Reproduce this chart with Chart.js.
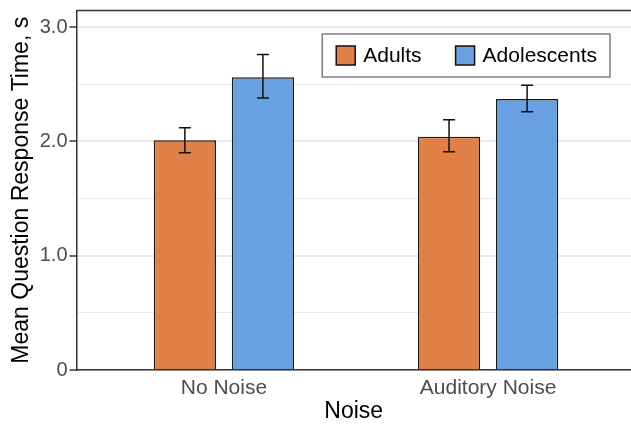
<!DOCTYPE html>
<html>
<head>
<meta charset="utf-8">
<script src="https://cdn.jsdelivr.net/npm/chart.js@4.4.0/dist/chart.umd.min.js"></script>
<style>
  html, body { margin: 0; padding: 0; background: #fff; overflow: hidden; }
  #wrap { width: 631px; height: 426px; }
</style>
</head>
<body>
<div id="wrap"><canvas id="noise"></canvas></div>
<script>
// data
const categories = ["No Noise", "Auditory Noise"];
const groups = ["Adults", "Adolescents"];
const adultsMean = [2.01, 2.04];
const adultsLow = [1.90, 1.91];
const adultsHigh = [2.12, 2.19];
const teensMean = [2.56, 2.37];
const teensLow = [2.38, 2.26];
const teensHigh = [2.76, 2.49];
const yTicks = [0, 0.5, 1, 1.5, 2, 2.5, 3];
const yTickLabels = ["0", "", "1.0", "", "2.0", "", "3.0"];
const colors = ["#E07F48", "#68A0E2"];

Chart.defaults.font.family = "'Liberation Sans', Arial, sans-serif";

function points(values) {
  return values.map((v, i) => ({ x: i + 1, y: v }));
}

// top edge of the panel
const panelTop = {
  id: "panelTop",
  beforeDatasetsDraw(chart) {
    const { ctx, chartArea } = chart;
    ctx.save();
    ctx.strokeStyle = "#333";
    ctx.lineWidth = 1.5;
    ctx.beginPath();
    ctx.moveTo(chartArea.left, chartArea.top);
    ctx.lineTo(chartArea.right, chartArea.top);
    ctx.stroke();
    ctx.restore();
  }
};

const errorBars = {
  id: "errorBars",
  afterDatasetsDraw(chart) {
    const { ctx } = chart;
    const y = chart.scales.y;
    ctx.save();
    ctx.strokeStyle = "#111";
    ctx.lineWidth = 1.5;
    chart.data.datasets.forEach((ds, di) => {
      chart.getDatasetMeta(di).data.forEach((bar, i) => {
        const top = y.getPixelForValue(ds.errHigh[i]);
        const bot = y.getPixelForValue(ds.errLow[i]);
        ctx.beginPath();
        ctx.moveTo(bar.x, top);
        ctx.lineTo(bar.x, bot);
        ctx.moveTo(bar.x - 6, top);
        ctx.lineTo(bar.x + 6, top);
        ctx.moveTo(bar.x - 6, bot);
        ctx.lineTo(bar.x + 6, bot);
        ctx.stroke();
      });
    });
    ctx.restore();
  }
};

const boxLegend = {
  id: "boxLegend",
  afterDraw(chart) {
    const { ctx, chartArea } = chart;
    const ds = chart.data.datasets;
    ctx.save();
    ctx.font = "21px 'Liberation Sans', Arial, sans-serif";
    const sq = 19, gapText = 8, gapItem = 34, padL = 14, padR = 13, h = 43;
    let w = padL + padR;
    ds.forEach((d, i) => {
      w += sq + gapText + ctx.measureText(d.label).width;
      if (i < ds.length - 1) w += gapItem;
    });
    const right = chartArea.right - 21;
    const left = right - w;
    const top = chartArea.top + 23.5;
    ctx.fillStyle = "#fff";
    ctx.fillRect(left, top, w, h);
    ctx.strokeStyle = "#7f7f7f";
    ctx.lineWidth = 1.5;
    ctx.strokeRect(left, top, w, h);
    let x = left + padL;
    const cy = top + h / 2;
    ds.forEach((d) => {
      ctx.fillStyle = d.backgroundColor;
      ctx.fillRect(x, cy - sq / 2, sq, sq);
      ctx.strokeStyle = "#111";
      ctx.strokeRect(x, cy - sq / 2, sq, sq);
      x += sq + gapText;
      ctx.fillStyle = "#000";
      ctx.textBaseline = "middle";
      ctx.fillText(d.label, x, cy + 1);
      x += ctx.measureText(d.label).width + gapItem;
    });
    ctx.restore();
  }
};

new Chart(document.getElementById("noise"), {
  type: "bar",
  data: {
    datasets: [
      {
        label: groups[0],
        data: points(adultsMean),
        errLow: adultsLow,
        errHigh: adultsHigh,
        backgroundColor: colors[0]
      },
      {
        label: groups[1],
        data: points(teensMean),
        errLow: teensLow,
        errHigh: teensHigh,
        backgroundColor: colors[1]
      }
    ]
  },
  options: {
    responsive: true,
    maintainAspectRatio: false,
    animation: false,
    devicePixelRatio: 1,
    layout: { autoPadding: false, padding: { top: 10.5, right: 0, bottom: 0, left: 0 } },
    datasets: {
      bar: {
        categoryPercentage: 0.591,
        barPercentage: 0.797,
        borderWidth: 1.5,
        borderColor: "#1a1a1a"
      }
    },
    plugins: {
      legend: { display: false },
      tooltip: { enabled: false }
    },
    scales: {
      x: {
        type: "linear",
        offset: false,
        min: 0.442,
        max: 2.541,
        afterBuildTicks: (s) => { s.ticks = categories.map((c, i) => ({ value: i + 1 })); },
        afterFit: (s) => {
          s.height = 56;
          s.paddingLeft = 0;
          s.paddingRight = 0;
        },
        ticks: {
          callback: (v, i) => categories[i],
          color: "#4d4d4d",
          font: { size: 21 },
          padding: 6,
          autoSkip: false,
          maxRotation: 0
        },
        grid: { display: false, drawTicks: false, offset: false },
        border: { display: true, color: "#333", width: 1.5 },
        title: {
          display: true,
          text: "Noise",
          color: "#000",
          font: { size: 23 },
          padding: { top: 0, bottom: 1 }
        }
      },
      y: {
        min: 0,
        max: 3.145,
        afterBuildTicks: (s) => { s.ticks = yTicks.map((v) => ({ value: v })); },
        afterFit: (s) => {
          s.width = 76.5;
          s.paddingTop = 0;
          s.paddingBottom = 0;
        },
        ticks: {
          callback: (v, i) => yTickLabels[i],
          color: "#4d4d4d",
          font: { size: 20 },
          padding: 2,
          autoSkip: false
        },
        grid: {
          color: "#ebebeb",
          lineWidth: (c) => (c.tick && c.tick.value % 1 === 0 ? 2 : 1),
          tickLength: 7,
          tickWidth: 1.5,
          tickColor: (c) => (c.tick && c.tick.value % 1 === 0 ? "#333" : "rgba(0,0,0,0)")
        },
        border: { display: true, color: "#333", width: 1.5 },
        title: {
          display: true,
          text: "Mean Question Response Time, s",
          color: "#000",
          font: { size: 23 },
          padding: { top: 7.5, bottom: 0 }
        }
      }
    }
  },
  plugins: [panelTop, errorBars, boxLegend]
});
</script>
</body>
</html>
